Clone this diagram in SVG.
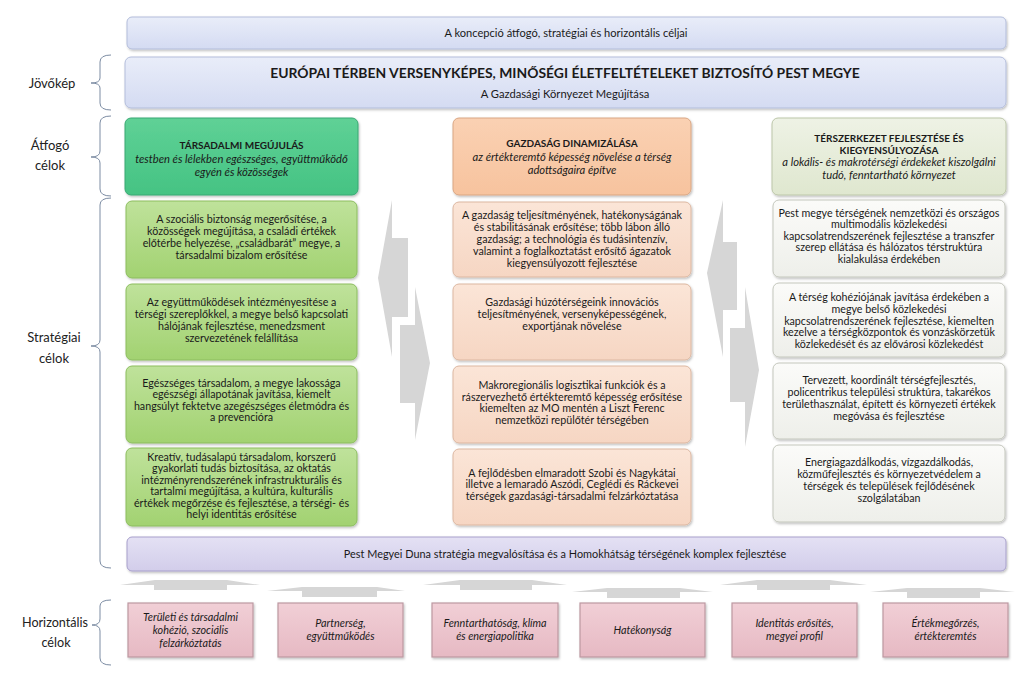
<svg xmlns="http://www.w3.org/2000/svg" width="1023" height="694" viewBox="0 0 1023 694">
<defs>
<linearGradient id="gBlue" x1="0" y1="0" x2="0" y2="1"><stop offset="0" stop-color="#e9edf9"/><stop offset="1" stop-color="#d4dbf2"/></linearGradient>
<linearGradient id="gGreenH" x1="0" y1="0" x2="0" y2="1"><stop offset="0" stop-color="#5fd196"/><stop offset="1" stop-color="#45c383"/></linearGradient>
<linearGradient id="gOrangeH" x1="0" y1="0" x2="0" y2="1"><stop offset="0" stop-color="#fad1b3"/><stop offset="1" stop-color="#f7c39e"/></linearGradient>
<linearGradient id="gOliveH" x1="0" y1="0" x2="0" y2="1"><stop offset="0" stop-color="#eef2e5"/><stop offset="1" stop-color="#dfe7cf"/></linearGradient>
<linearGradient id="gGreen" x1="0" y1="0" x2="0" y2="1"><stop offset="0" stop-color="#bfe29b"/><stop offset="1" stop-color="#a2d271"/></linearGradient>
<linearGradient id="gOrange" x1="0" y1="0" x2="0" y2="1"><stop offset="0" stop-color="#fbe5d7"/><stop offset="1" stop-color="#f6d6c3"/></linearGradient>
<linearGradient id="gGray" x1="0" y1="0" x2="0" y2="1"><stop offset="0" stop-color="#fbfbf9"/><stop offset="1" stop-color="#eeefea"/></linearGradient>
<linearGradient id="gPurple" x1="0" y1="0" x2="0" y2="1"><stop offset="0" stop-color="#e4e1f4"/><stop offset="1" stop-color="#d2cdea"/></linearGradient>
<linearGradient id="gPink" x1="0" y1="0" x2="0" y2="1"><stop offset="0" stop-color="#f1cfd6"/><stop offset="1" stop-color="#e6b9c3"/></linearGradient>
<filter id="sh" x="-5%" y="-10%" width="110%" height="125%"><feDropShadow dx="1" dy="1.5" stdDeviation="1.2" flood-color="#000" flood-opacity="0.25"/></filter>
</defs>
<style>
text{font-family:Lato,"Open Sans","Liberation Sans",sans-serif;fill:#1a1a1a;text-anchor:middle}
.t{font-size:10.7px}
.b{font-size:10px;font-weight:bold}
.i{font-size:11.2px;font-style:italic}
.hi{font-size:10.8px;font-style:italic}
.lab{font-size:13px;fill:#222}
.brk{fill:none;stroke:#7c8ca3;stroke-width:1}
.arr{fill:#d6d6d6}
.blue{fill:url(#gBlue);stroke:#b3bddb;stroke-width:1}
.gh{fill:url(#gGreenH);stroke:#3aa872;stroke-width:1}
.oh{fill:url(#gOrangeH);stroke:#d9a683;stroke-width:1}
.lh{fill:url(#gOliveH);stroke:#bcc6a9;stroke-width:1}
.gb{fill:url(#gGreen);stroke:#8cbd5f;stroke-width:1}
.ob{fill:url(#gOrange);stroke:#dcb7a1;stroke-width:1}
.wb{fill:url(#gGray);stroke:#c4c7bd;stroke-width:1}
.pb{fill:url(#gPurple);stroke:#a79fcb;stroke-width:1}
.hb{fill:url(#gPink);stroke:#bd98a1;stroke-width:1.2}
</style>

<g id="labels">
<path class="brk" d="M111,55 Q100,55 100,62 V78 Q100,83 91,83 Q100,83 100,88 V103 Q100,110 111,110"/>
<text class="lab" x="52" y="88">Jövőkép</text>
<path class="brk" d="M111,116 Q100,116 100,123 V151 Q100,157 91,157 Q100,157 100,163 V189 Q100,196 111,196"/>
<text class="lab" x="50" y="150">Átfogó</text>
<text class="lab" x="50" y="170">célok</text>
<path class="brk" d="M111,198 Q100,198 100,205 V340 Q100,346 91,346 Q100,346 100,352 V561 Q100,568 111,568"/>
<text class="lab" x="54" y="342">Stratégiai</text>
<text class="lab" x="54" y="363">célok</text>
<path class="brk" d="M111,600 Q100,600 100,606 V619 Q100,625 92,625 Q100,625 100,631 V658 Q100,665 111,665"/>
<text class="lab" x="55" y="627" style="font-size:12.6px">Horizontális</text>
<text class="lab" x="56" y="647" style="font-size:12.6px">célok</text>
</g>

<g id="connectors">
<polygon class="arr" points="392,200 392,238 408,238 408,317 392,317 392,357 378,278"/>
<polygon class="arr" points="415,287 430,363 415,440 415,403 400,403 400,325 415,325"/>
<polygon class="arr" points="723,200 723,242 737,242 737,310 723,310 723,357 707,273"/>
<polygon class="arr" points="745,287 759,370 745,447 745,402 730,402 730,328 745,328"/>
<polygon class="arr" points="120,585 155,580 227,580 260,585 227,585 227,590 154,590 154,585"/>
<polygon class="arr" points="267,591 302,587 377,587 405,591 377,591 377,597 302,597 302,591"/>
<polygon class="arr" points="423,585 460,580 532,580 567,585 532,585 532,590 460,590 460,585"/>
<polygon class="arr" points="572,592 607,588 680,588 713,592 680,592 680,598 607,598 607,592"/>
<polygon class="arr" points="720,585 757,580 830,580 867,585 830,585 830,590 757,590 757,585"/>
<polygon class="arr" points="870,592 907,588 980,588 1015,592 980,592 980,598 907,598 907,592"/>
</g>

<g id="top-banner">
<rect class="blue" x="127" y="17" width="879" height="32" rx="5" filter="url(#sh)"/>
<text x="566" y="37" style="font-size:11.1px">A koncepció átfogó, stratégiai és horizontális céljai</text>
</g>

<g id="jovokep">
<rect class="blue" x="125" y="57" width="881" height="51" rx="6" filter="url(#sh)"/>
<text x="565" y="78" style="font-size:13.9px;font-weight:bold">EURÓPAI TÉRBEN VERSENYKÉPES, MINŐSÉGI ÉLETFELTÉTELEKET BIZTOSÍTÓ PEST MEGYE</text>
<text x="565" y="98" style="font-size:11.2px">A Gazdasági Környezet Megújítása</text>
</g>

<g id="atfogo-1">
<rect class="gh" x="125" y="118" width="233" height="77" rx="6" filter="url(#sh)"/>
<text class="b" x="241.5" y="148.5">TÁRSADALMI MEGÚJULÁS</text>
<text class="i" x="241.5" y="162.5">testben és lélekben egészséges, együttműködő</text>
<text class="i" x="241.5" y="175.5">egyén és közösségek</text>
</g>
<g id="atfogo-2">
<rect class="oh" x="453" y="118" width="238" height="77" rx="6" filter="url(#sh)"/>
<text class="b" x="572" y="146.5">GAZDASÁG DINAMIZÁLÁSA</text>
<text class="i" x="572" y="161">az értékteremtő képesség növelése a térség</text>
<text class="i" x="572" y="173.5">adottságaira építve</text>
</g>
<g id="atfogo-3">
<rect class="lh" x="772" y="118" width="234" height="77" rx="6" filter="url(#sh)"/>
<text class="b" x="889" y="141.5">TÉRSZERKEZET FEJLESZTÉSE ÉS</text>
<text class="b" x="889" y="153.5">KIEGYENSÚLYOZÁSA</text>
<text class="i" x="889" y="165.5">a lokális- és makrotérségi érdekeket kiszolgálni</text>
<text class="i" x="889" y="178.5">tudó, fenntartható környezet</text>
</g>

<g id="strat-1-1">
<rect class="gb" x="126" y="201" width="231" height="77" rx="6" filter="url(#sh)"/>
<text class="t" x="241.5" y="222.5">A szociális biztonság megerősítése, a</text>
<text class="t" x="241.5" y="234.5">közösségek megújítása, a családi értékek</text>
<text class="t" x="241.5" y="246.5">előtérbe helyezése, „családbarát” megye, a</text>
<text class="t" x="241.5" y="258.5">társadalmi bizalom erősítése</text>
</g>
<g id="strat-1-2">
<rect class="gb" x="126" y="284" width="231" height="76" rx="6" filter="url(#sh)"/>
<text class="t" x="241.5" y="305.5">Az együttműködések intézményesítése a</text>
<text class="t" x="241.5" y="317.5">térségi szereplőkkel, a megye belső kapcsolati</text>
<text class="t" x="241.5" y="329.5">hálójának fejlesztése, menedzsment</text>
<text class="t" x="241.5" y="341.5">szervezetének felállítása</text>
</g>
<g id="strat-1-3">
<rect class="gb" x="126" y="366" width="231" height="77" rx="6" filter="url(#sh)"/>
<text class="t" x="241.5" y="386.5">Egészséges társadalom, a megye lakossága</text>
<text class="t" x="241.5" y="398">egészségi állapotának javítása, kiemelt</text>
<text class="t" x="241.5" y="409.5">hangsúlyt fektetve azegészséges életmódra és</text>
<text class="t" x="241.5" y="421">a prevencióra</text>
</g>
<g id="strat-1-4">
<rect class="gb" x="126" y="448" width="231" height="78" rx="6" filter="url(#sh)"/>
<text class="t" x="241.5" y="460.5">Kreatív, tudásalapú társadalom, korszerű</text>
<text class="t" x="241.5" y="472">gyakorlati tudás biztosítása, az oktatás</text>
<text class="t" x="241.5" y="483.5">intézményrendszerének infrastrukturális és</text>
<text class="t" x="241.5" y="495">tartalmi megújítása, a kultúra, kulturális</text>
<text class="t" x="241.5" y="506.5">értékek megőrzése és fejlesztése, a térségi- és</text>
<text class="t" x="241.5" y="518">helyi identitás erősítése</text>
</g>

<g id="strat-2-1">
<rect class="ob" x="453" y="202" width="238" height="75" rx="6" filter="url(#sh)"/>
<text class="t" x="572" y="218.5">A gazdaság teljesítményének, hatékonyságának</text>
<text class="t" x="572" y="230.5">és stabilitásának erősítése; több lábon álló</text>
<text class="t" x="572" y="242.5">gazdaság; a technológia és tudásintenzív,</text>
<text class="t" x="572" y="254.5">valamint a foglalkoztatást erősítő ágazatok</text>
<text class="t" x="572" y="266.5">kiegyensúlyozott fejlesztése</text>
</g>
<g id="strat-2-2">
<rect class="ob" x="453" y="284" width="238" height="76" rx="6" filter="url(#sh)"/>
<text class="t" x="572" y="306">Gazdasági húzótérségeink innovációs</text>
<text class="t" x="572" y="318">teljesítményének, versenyképességének,</text>
<text class="t" x="572" y="330">exportjának növelése</text>
</g>
<g id="strat-2-3">
<rect class="ob" x="453" y="366" width="238" height="77" rx="6" filter="url(#sh)"/>
<text class="t" x="572" y="388.5">Makroregionális logisztikai funkciók és a</text>
<text class="t" x="572" y="400.5">rászervezhető értékteremtő képesség erősítése</text>
<text class="t" x="572" y="412">kiemelten az MO mentén a Liszt Ferenc</text>
<text class="t" x="572" y="423.5">nemzetközi repülőtér térségében</text>
</g>
<g id="strat-2-4">
<rect class="ob" x="453" y="449" width="238" height="76" rx="6" filter="url(#sh)"/>
<text class="t" x="572" y="476.5">A fejlődésben elmaradott Szobi és Nagykátai</text>
<text class="t" x="572" y="488">illetve a lemaradó Aszódi, Ceglédi és Ráckevei</text>
<text class="t" x="572" y="499.5">térségek gazdasági-társadalmi felzárkóztatása</text>
</g>

<g id="strat-3-1">
<rect class="wb" x="773" y="200" width="232" height="77" rx="6" filter="url(#sh)"/>
<text class="t" x="889" y="216.5">Pest megye térségének nemzetközi és országos</text>
<text class="t" x="889" y="228">multimodális közlekedési</text>
<text class="t" x="889" y="239.5">kapcsolatrendszerének fejlesztése a transzfer</text>
<text class="t" x="889" y="251">szerep ellátása és hálózatos térstruktúra</text>
<text class="t" x="889" y="263">kialakulása érdekében</text>
</g>
<g id="strat-3-2">
<rect class="wb" x="773" y="283" width="232" height="74" rx="6" filter="url(#sh)"/>
<text class="t" x="889" y="300.5">A térség kohéziójának javítása érdekében a</text>
<text class="t" x="889" y="312.5">megye belső közlekedési</text>
<text class="t" x="889" y="324.5">kapcsolatrendszerének fejlesztése, kiemelten</text>
<text class="t" x="889" y="336">kezelve a térségközpontok és vonzáskörzetük</text>
<text class="t" x="889" y="347.5">közlekedését és az elővárosi közlekedést</text>
</g>
<g id="strat-3-3">
<rect class="wb" x="773" y="363" width="232" height="76" rx="6" filter="url(#sh)"/>
<text class="t" x="889" y="384">Tervezett, koordinált térségfejlesztés,</text>
<text class="t" x="889" y="396">policentrikus települési struktúra, takarékos</text>
<text class="t" x="889" y="408">területhasználat, épített és környezeti értékek</text>
<text class="t" x="889" y="420">megóvása és fejlesztése</text>
</g>
<g id="strat-3-4">
<rect class="wb" x="773" y="445" width="232" height="77" rx="6" filter="url(#sh)"/>
<text class="t" x="889" y="466">Energiagazdálkodás, vízgazdálkodás,</text>
<text class="t" x="889" y="478">közműfejlesztés és környezetvédelem a</text>
<text class="t" x="889" y="490">térségek és települések fejlődésének</text>
<text class="t" x="889" y="502">szolgálatában</text>
</g>

<g id="duna-banner">
<rect class="pb" x="127" y="537" width="879" height="34" rx="5" filter="url(#sh)"/>
<text x="565" y="558" style="font-size:10.9px">Pest Megyei Duna stratégia megvalósítása és a Homokhátság térségének komplex fejlesztése</text>
</g>

<g id="horiz-1">
<rect class="hb" x="128" y="603" width="125" height="54" filter="url(#sh)"/>
<text class="hi" x="190.5" y="620.5">Területi és társadalmi</text>
<text class="hi" x="190.5" y="633.5">kohézió, szociális</text>
<text class="hi" x="190.5" y="646.5">felzárkóztatás</text>
</g>
<g id="horiz-2">
<rect class="hb" x="278" y="603" width="125" height="54" filter="url(#sh)"/>
<text class="hi" x="340.5" y="626.5">Partnerség,</text>
<text class="hi" x="340.5" y="639.5">együttműködés</text>
</g>
<g id="horiz-3">
<rect class="hb" x="432" y="603" width="126" height="54" filter="url(#sh)"/>
<text class="hi" x="495" y="626.5">Fenntarthatóság, klíma</text>
<text class="hi" x="495" y="639.5">és energiapolitika</text>
</g>
<g id="horiz-4">
<rect class="hb" x="580" y="603" width="125" height="54" filter="url(#sh)"/>
<text class="hi" x="642.5" y="633.5">Hatékonyság</text>
</g>
<g id="horiz-5">
<rect class="hb" x="732" y="603" width="125" height="54" filter="url(#sh)"/>
<text class="hi" x="794.5" y="626.5">Identitás erősítés,</text>
<text class="hi" x="794.5" y="639.5">megyei profil</text>
</g>
<g id="horiz-6">
<rect class="hb" x="883" y="603" width="125" height="54" filter="url(#sh)"/>
<text class="hi" x="945.5" y="626.5">Értékmegőrzés,</text>
<text class="hi" x="945.5" y="639.5">értékteremtés</text>
</g>
</svg>
